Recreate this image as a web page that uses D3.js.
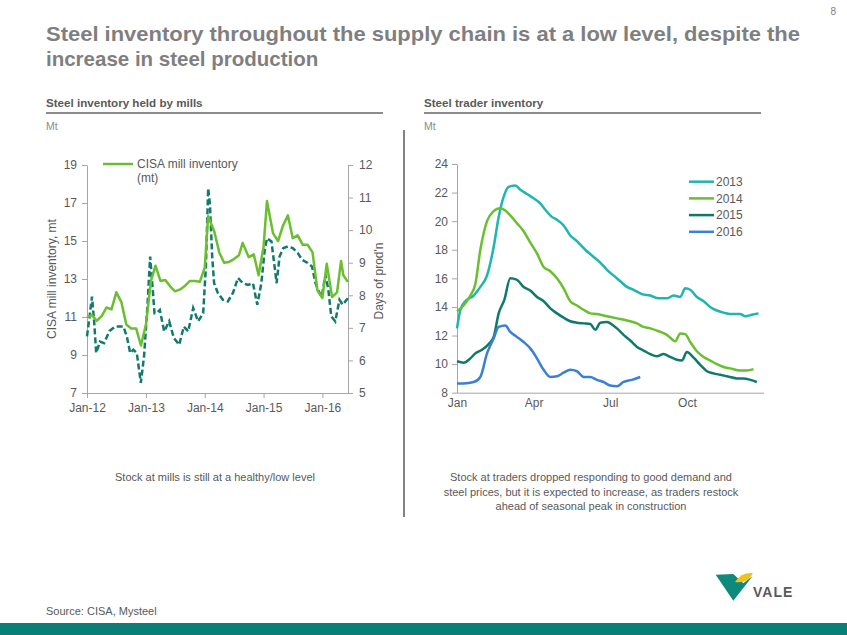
<!DOCTYPE html>
<html><head><meta charset="utf-8">
<script src="https://cdn.jsdelivr.net/npm/d3@7"></script>
<style>
body{margin:0;background:#fff;}
svg{display:block;font-family:"Liberation Sans",Arial,sans-serif;}
.ax path,.ax line{stroke:#a6a6a6;stroke-width:1;}
.ax text{fill:#595959;font-size:12px;}
</style>
</head><body><svg id="c" width="847" height="635"></svg>
<script>
// ---------- Left chart data: CISA mill inventory (Mt) ----------
const millDates = ["2012-01-01","2012-02-01","2012-03-01","2012-04-01","2012-05-01","2012-06-01","2012-07-01","2012-08-01","2012-09-01","2012-10-01","2012-11-01","2012-12-01","2013-01-01","2013-02-01","2013-03-01","2013-04-01","2013-05-01","2013-06-01","2013-07-01","2013-08-01","2013-09-01","2013-10-01","2013-11-01","2013-12-01","2014-01-01","2014-01-22","2014-03-01","2014-04-01","2014-05-01","2014-06-01","2014-07-01","2014-08-01","2014-08-24","2014-10-01","2014-11-01","2014-12-01","2015-01-01","2015-01-22","2015-03-01","2015-04-01","2015-05-01","2015-06-01","2015-07-01","2015-08-01","2015-09-01","2015-10-01","2015-11-01","2015-12-01","2016-01-01","2016-01-28","2016-03-01","2016-04-01","2016-04-26","2016-05-10","2016-06-07"];
const millValues = [11.0,11.1,10.8,11.05,11.5,11.4,12.3,11.8,10.6,10.4,10.4,9.5,10.6,12.9,13.7,12.9,12.95,12.6,12.35,12.45,12.65,12.9,12.9,12.85,13.6,16.3,15.5,14.4,13.85,13.9,14.05,14.25,14.9,14.15,14.3,13.2,14.7,17.1,15.4,15.0,15.8,16.35,15.15,15.3,14.8,14.8,14.4,12.4,12.0,13.8,12.05,12.3,13.95,13.2,12.85];
// Days of production (right axis)
const daysDates = ["2012-01-01","2012-01-17","2012-02-01","2012-02-15","2012-02-27","2012-03-22","2012-04-16","2012-05-19","2012-06-23","2012-08-14","2012-09-04","2012-09-25","2012-10-15","2012-11-05","2012-11-30","2012-12-20","2013-01-10","2013-01-27","2013-02-09","2013-02-23","2013-03-08","2013-03-28","2013-04-24","2013-05-25","2013-06-23","2013-07-26","2013-08-24","2013-09-20","2013-10-21","2013-11-21","2013-12-22","2014-01-08","2014-01-22","2014-02-02","2014-02-16","2014-02-28","2014-03-23","2014-04-24","2014-05-24","2014-06-25","2014-07-26","2014-08-26","2014-09-26","2014-10-27","2014-11-23","2014-12-18","2015-01-08","2015-01-22","2015-02-19","2015-03-05","2015-03-23","2015-04-10","2015-05-04","2015-06-01","2015-07-01","2015-08-02","2015-08-28","2015-10-02","2015-10-29","2015-11-19","2015-12-14","2015-12-28","2016-01-20","2016-02-07","2016-02-25","2016-03-21","2016-04-16","2016-05-06","2016-06-07"];
const daysValues = [6.74,7.35,7.96,7.15,6.23,6.58,6.53,6.9,7.04,7.04,6.74,6.23,6.33,6.23,5.31,6.12,7.66,9.19,8.37,7.45,7.45,7.55,6.89,7.2,6.69,6.48,7.04,6.89,7.61,7.2,7.45,8.88,11.28,10.8,9.19,8.37,8.07,7.86,7.81,8.07,8.53,8.37,8.32,8.37,7.71,8.37,9.39,9.75,9.65,9.09,8.37,9.19,9.45,9.5,9.45,9.29,9.09,8.99,8.88,8.37,8.07,7.96,8.63,8.17,7.35,7.2,7.86,7.71,7.91];
const leftTicks = [7,9,11,13,15,17,19];
const rightTicks = [5,6,7,8,9,10,11,12];
const yearTicks = ["2012-01-01","2013-01-01","2014-01-01","2015-01-01","2016-01-01"];

// ---------- Right chart data: steel trader inventory (Mt), x = week of year ----------
const traderYears = ["2013","2014","2015","2016"];
const weeks2013 = [0,0.57,1.41,2.83,3.96,5.09,6.22,7.07,7.91,8.76,9.89,10.74,11.87,13.0,14.13,14.98,16.11,16.96,18.09,19.22,20.35,21.76,22.9,24.31,25.44,26.85,27.7,28.83,29.96,31.37,32.79,34.2,35.61,36.74,37.88,38.72,39.57,40.7,41.83,42.96,44.09,45.22,46.35,48.05,48.9,50.03,51.16];
const values2013 = [12.5,13.8,14.4,14.8,15.4,16.2,18.2,20.3,21.7,22.4,22.5,22.2,21.9,21.6,21.25,20.8,20.3,20.1,19.7,19.0,18.6,18.0,17.6,17.1,16.6,16.1,15.8,15.4,15.2,14.9,14.8,14.6,14.6,14.8,14.7,15.3,15.2,14.7,14.4,14.0,13.75,13.6,13.5,13.5,13.35,13.45,13.55];
const weeks2014 = [0,1.13,2.26,3.11,3.96,5.09,6.22,7.24,8.2,9.04,10.18,11.31,12.44,13.57,14.7,15.83,16.96,18.09,19.22,20.35,21.48,22.61,23.74,25.44,27.13,28.83,30.53,31.66,32.79,34.2,35.61,37.03,37.88,38.72,39.57,40.7,41.83,42.96,44.09,45.22,46.35,48.05,49.18,50.31];
const values2014 = [13.7,14.1,14.8,15.6,18.0,20.0,20.7,20.9,20.75,20.4,19.85,19.3,18.5,17.75,16.8,16.5,16.0,15.3,14.4,14.1,13.8,13.55,13.5,13.35,13.2,13.05,12.85,12.6,12.5,12.3,12.05,11.6,12.15,12.1,11.55,10.9,10.5,10.25,10.0,9.8,9.7,9.55,9.55,9.65];
const weeks2015 = [0,1.13,2.26,3.11,4.24,5.37,6.22,7.07,8.03,9.04,10.18,11.31,12.44,13.57,14.7,15.83,16.96,18.09,19.22,20.35,21.48,22.61,23.46,24.31,25.44,26.0,27.13,28.26,29.4,30.53,31.66,32.79,33.92,35.05,36.18,37.31,38.16,39.0,40.14,41.27,42.4,43.53,44.66,46.35,47.48,48.62,49.75,50.88];
const values2015 = [10.2,10.1,10.4,10.75,11.0,11.4,11.9,13.55,14.5,16.0,15.9,15.4,15.15,14.7,14.4,13.9,13.55,13.25,13.0,12.9,12.85,12.8,12.4,12.9,12.95,12.85,12.5,12.05,11.65,11.2,10.95,10.7,10.55,10.7,10.5,10.3,10.25,10.85,10.45,9.95,9.5,9.35,9.25,9.1,9.0,9.0,8.9,8.75];
const weeks2016 = [0,1.13,2.83,3.96,5.09,6.22,7.07,8.2,9.04,10.18,11.31,12.44,13.57,14.7,15.83,16.96,18.09,19.22,20.35,21.48,22.61,23.74,24.87,26.0,27.13,28.26,29.68,31.09];
const values2016 = [8.65,8.65,8.75,9.1,10.75,11.8,12.6,12.7,12.25,11.9,11.55,11.1,10.4,9.6,9.1,9.15,9.4,9.6,9.5,9.1,9.1,8.9,8.75,8.5,8.45,8.75,8.9,9.1];
const traderTicks = [8,10,12,14,16,18,20,22,24];
const monthTickWeeks = [0,13,26,39];
const monthTickLabels = ["Jan","Apr","Jul","Oct"];
const traderColors = ["#1fb5b0","#6abf2e","#0e7a6a","#3a7fd8"];

const svg = d3.select("#c");
const parse = d3.timeParse("%Y-%m-%d");
const fmtInt = d3.format("d");

// ---------- Header ----------
svg.append("text").attr("x",836).attr("y",15).attr("text-anchor","end")
  .attr("font-size",10).attr("fill","#7f7f7f").text("8");
const titleLines = ["Steel inventory throughout the supply chain is at a low level, despite the","increase in steel production"];
svg.append("text").attr("x",46).attr("y",41).attr("font-size",20.5).attr("font-weight","bold")
  .attr("fill","#7f7f7f").attr("textLength",754).attr("lengthAdjust","spacingAndGlyphs").text(titleLines[0]);
svg.append("text").attr("x",46).attr("y",66).attr("font-size",20.5).attr("font-weight","bold")
  .attr("fill","#7f7f7f").text(titleLines[1]);

function header(x, x2, label){
  svg.append("text").attr("x",x).attr("y",107).attr("font-size",11.6).attr("font-weight","bold")
    .attr("fill","#595959").text(label);
  svg.append("line").attr("x1",x).attr("x2",x2).attr("y1",113).attr("y2",113)
    .attr("stroke","#8c8c8c").attr("stroke-width",2);
  svg.append("text").attr("x",x).attr("y",130).attr("font-size",10.5).attr("fill","#8c8c8c").text("Mt");
}
header(46,383,"Steel inventory held by mills");
header(424,761,"Steel trader inventory");

svg.append("line").attr("x1",404).attr("x2",404).attr("y1",130).attr("y2",517)
  .attr("stroke","#595959").attr("stroke-width",1.5);

// ---------- Left chart ----------
const xL = d3.scaleTime().domain([parse("2012-01-01"), parse("2016-06-08")]).range([87,348]);
const yL = d3.scaleLinear().domain([7,19]).range([393,165]);
const yR = d3.scaleLinear().domain([5,12]).range([393,165]);

svg.append("g").attr("class","ax").attr("transform","translate(87,0)")
  .call(d3.axisLeft(yL).tickValues(leftTicks).tickFormat(fmtInt).tickSize(5).tickSizeOuter(0).tickPadding(5));
svg.append("g").attr("class","ax").attr("transform","translate(348,0)")
  .call(d3.axisRight(yR).tickValues(rightTicks).tickFormat(fmtInt).tickSize(5).tickSizeOuter(0).tickPadding(6));
svg.append("g").attr("class","ax").attr("transform","translate(0,393)")
  .call(d3.axisBottom(xL).tickValues(yearTicks.map(parse)).tickFormat(d3.timeFormat("Jan-%y"))
    .tickSize(5).tickSizeOuter(0).tickPadding(5));

svg.append("text").attr("transform","translate(56,279) rotate(-90)").attr("text-anchor","middle")
  .attr("font-size",12).attr("fill","#595959").text("CISA  mill inventory, mt");
svg.append("text").attr("transform","translate(383,281) rotate(-90)").attr("text-anchor","middle")
  .attr("font-size",12).attr("fill","#595959").text("Days of prod'n");

const daysData = daysDates.map((d,i)=>({x:parse(d), y:daysValues[i]}));
const millData = millDates.map((d,i)=>({x:parse(d), y:millValues[i]}));
svg.append("path").datum(daysData).attr("fill","none").attr("stroke","#117a6d")
  .attr("stroke-width",2.5).attr("stroke-dasharray","6,3")
  .attr("d", d3.line().x(d=>xL(d.x)).y(d=>yR(d.y)));
svg.append("path").datum(millData).attr("fill","none").attr("stroke","#6abf2e")
  .attr("stroke-width",2.5).attr("stroke-linejoin","round")
  .attr("d", d3.line().x(d=>xL(d.x)).y(d=>yL(d.y)));

// legend (left)
svg.append("line").attr("x1",103).attr("x2",133).attr("y1",164).attr("y2",164)
  .attr("stroke","#6abf2e").attr("stroke-width",2.5);
svg.append("text").attr("x",137).attr("y",168).attr("font-size",12).attr("fill","#595959").text("CISA mill inventory");
svg.append("text").attr("x",137).attr("y",182).attr("font-size",12).attr("fill","#595959").text("(mt)");

// ---------- Right chart ----------
const xT = d3.scaleLinear().domain([0,52]).range([457,763.5]);
const yT = d3.scaleLinear().domain([8,24]).range([392.7,164]);
svg.append("g").attr("class","ax").attr("transform","translate(457,0)")
  .call(d3.axisLeft(yT).tickValues(traderTicks).tickFormat(fmtInt).tickSize(5).tickSizeOuter(0).tickPadding(4));
svg.append("g").attr("class","ax").attr("transform","translate(0,392.7)")
  .call(d3.axisBottom(xT).tickValues(monthTickWeeks).tickFormat((d,i)=>monthTickLabels[i])
    .tickSize(0).tickSizeOuter(0).tickPadding(6));

const traderWeeks = [weeks2013,weeks2014,weeks2015,weeks2016];
const traderValues = [values2013,values2014,values2015,values2016];
const lineT = d3.line().x(d=>xT(d.x)).y(d=>yT(d.y)).curve(d3.curveMonotoneX);
traderYears.forEach((yr,k)=>{
  const data = traderWeeks[k].map((w,i)=>({x:w, y:traderValues[k][i]}));
  svg.append("path").datum(data).attr("fill","none").attr("stroke",traderColors[k])
    .attr("stroke-width",2.5).attr("stroke-linejoin","round").attr("d", lineT);
  const ly = 181.7 + k*16.7;
  svg.append("line").attr("x1",689).attr("x2",714).attr("y1",ly).attr("y2",ly)
    .attr("stroke",traderColors[k]).attr("stroke-width",2.5);
  svg.append("text").attr("x",716).attr("y",ly+4.3).attr("font-size",12).attr("fill","#595959").text(yr);
});

// ---------- Notes ----------
svg.append("text").attr("x",215).attr("y",481).attr("text-anchor","middle").attr("font-size",11)
  .attr("fill","#595959").text("Stock at mills is still at a healthy/low level");
const rightNote = ["Stock at traders dropped responding to good demand and","steel prices, but it is expected to increase, as traders restock","ahead of seasonal peak in construction"];
rightNote.forEach((t,i)=>svg.append("text").attr("x",591).attr("y",481+i*14.7).attr("text-anchor","middle")
  .attr("font-size",11).attr("fill","#595959").text(t));

svg.append("text").attr("x",46).attr("y",615).attr("font-size",11).attr("fill","#595959").text("Source: CISA, Mysteel");

// ---------- Logo & footer band ----------
svg.append("path").attr("d","M715.7,574.7 L733.3,574 L743.3,583.3 L752.7,576 L733.3,600.7 Z").attr("fill","#0d8a7b");
svg.append("path").attr("d","M735,582 Q741,572 753,573 Q748,584 735,582 Z").attr("fill","#f2c21b");
svg.append("text").attr("x",753).attr("y",597).attr("font-size",14).attr("font-weight","bold")
  .attr("fill","#5a5a5a").attr("letter-spacing",1).text("VALE");
svg.append("rect").attr("x",0).attr("y",623).attr("width",847).attr("height",12).attr("fill","#0a7f77");
</script>
</body></html>
